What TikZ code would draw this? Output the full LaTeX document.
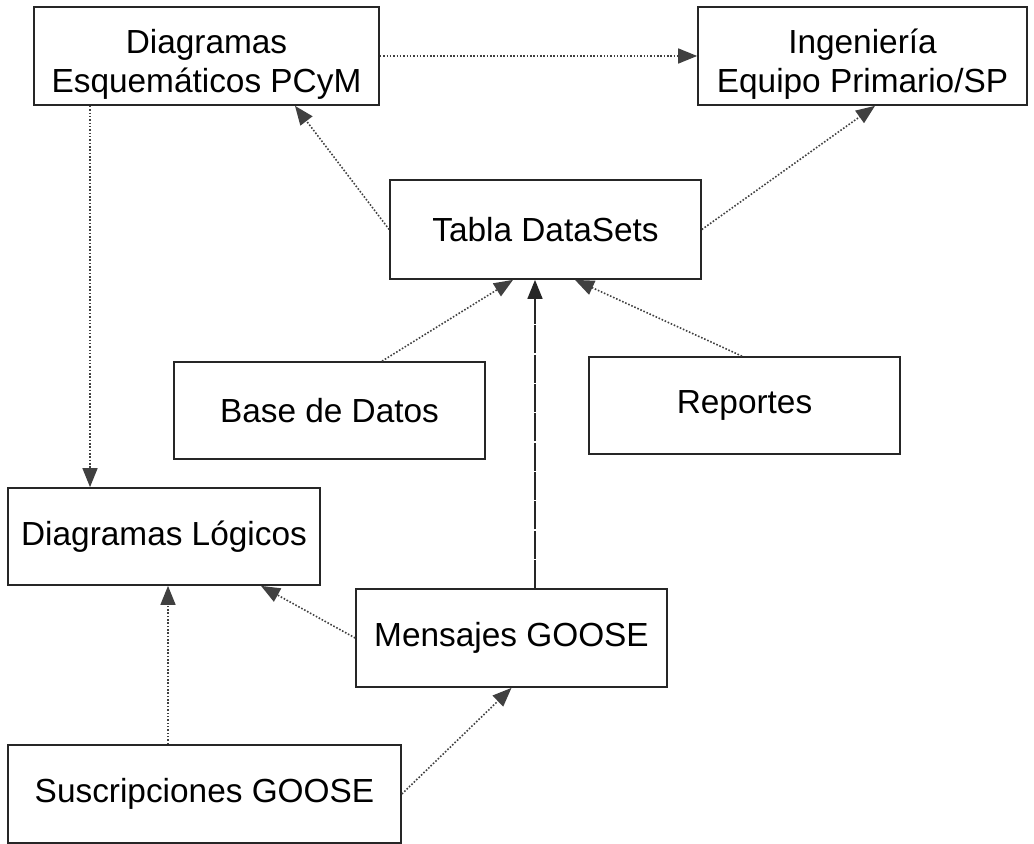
\documentclass[tikz,border=0pt]{standalone}
\usepackage{fontspec}
\setmainfont{Liberation Sans}
\usetikzlibrary{arrows.meta,positioning}

\begin{document}
\begin{tikzpicture}[
  x=0.02cm, y=-0.02cm,
  font=\fontsize{19}{22.5}\selectfont,
  >={Triangle[length=3.8mm,width=3mm]},
  box/.style={rectangle,draw=black!85,line width=1pt,minimum height=1.96cm,
              align=center,inner sep=0pt},
  twoline/.style={box,text height=46pt},
  conn/.style={->,densely dotted,draw=black!75,line width=0.9pt},
  longconn/.style={->,dash pattern=on 16pt off 0.7pt,draw=black!85,line width=0.9pt},
]
\useasboundingbox (0,0) rectangle (1034,844);

%% ------------------------------------------------------------------ top row
\node[twoline,minimum width=6.90cm] (esq) at (206.5,56) {Diagramas\\Esquemáticos PCyM};
\node[twoline,minimum width=6.58cm] (ing) at (862.5,56) {Ingeniería\\Equipo Primario/SP};

%% ------------------------------------------------------------------ middle
\node[box,minimum width=6.22cm,minimum height=1.98cm] (tabla) at (545.5,229.5) {Tabla DataSets};
\node[box,minimum width=6.22cm,minimum height=1.94cm] (base) at (329.5,410.5) {Base de Datos};
\node[box,minimum width=6.22cm,minimum height=1.94cm] (rep) at (744.5,405.5) {Reportes};

%% ------------------------------------------------------------------ bottom
\node[box,minimum width=6.24cm,minimum height=1.94cm] (log) at (164,536.5) {Diagramas Lógicos};
\node[box,minimum width=6.22cm] (mens) at (511.5,638) {Mensajes GOOSE};
\node[box,minimum width=7.86cm] (susc) at (204.5,794) {Suscripciones GOOSE};

%% ------------------------------------------------------------------ links
\draw[conn] (esq.east) -- (ing.west);
\draw[conn] ([xshift=-2.33cm]esq.south) -- ([xshift=-2.33cm]esq.south |- log.north);
\draw[conn] (tabla.west) -- ([xshift=1.77cm]esq.south);
\draw[conn] (tabla.east) -- ([xshift=0.25cm]ing.south);
\draw[conn] ([xshift=1.05cm]base.north) -- ([xshift=-0.65cm]tabla.south);
\draw[conn] ([xshift=-0.05cm]rep.north) -- ([xshift=0.59cm]tabla.south);
\draw[longconn] ([xshift=0.47cm]mens.north) -- ([xshift=0.47cm]mens.north |- tabla.south);
\draw[conn] (mens.west) -- ([xshift=1.94cm]log.south);
\draw[conn] ([xshift=-0.73cm]susc.north) -- ([xshift=-0.73cm]susc.north |- log.south);
\draw[conn] (susc.east) -- (mens.south);

\end{tikzpicture}
\end{document}
